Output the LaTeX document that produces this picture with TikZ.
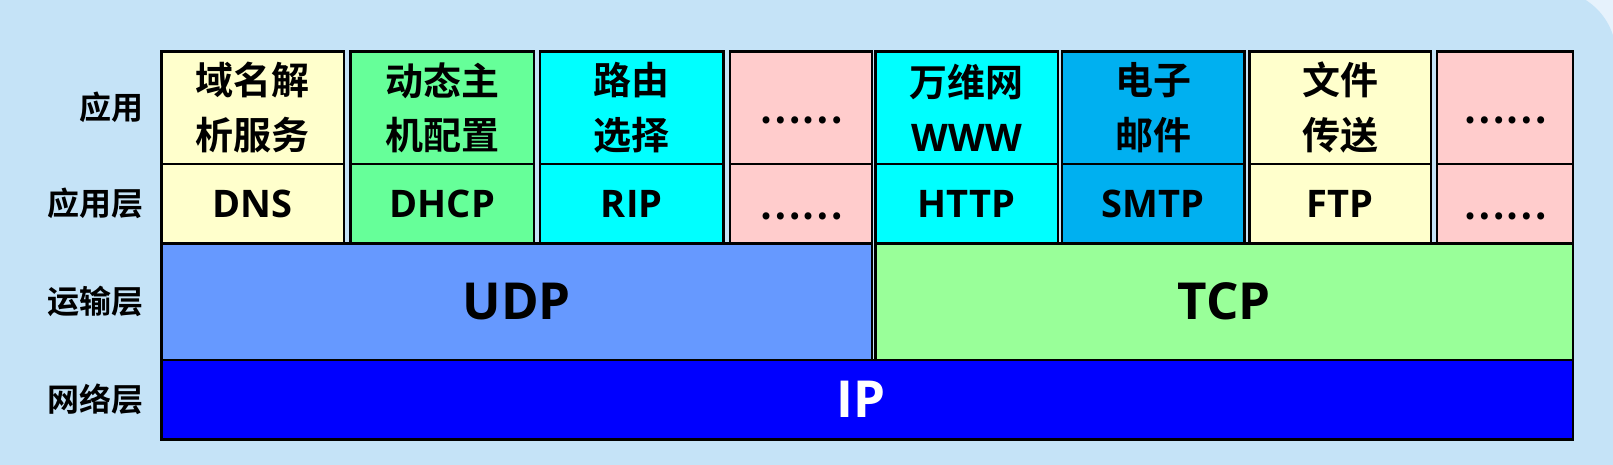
\documentclass[tikz,border=0pt]{standalone}
\usepackage{fontspec}
\setmainfont{Open Sans}
\newfontfamily\cjk{Noto Sans CJK SC}[BoldFont={Noto Sans CJK SC Bold}]
\usetikzlibrary{positioning}

\definecolor{panelblue}{HTML}{C5E3F7}
\definecolor{outerblue}{HTML}{E6F2FC}
\definecolor{dnsyellow}{HTML}{FFFFCC}
\definecolor{dhcpgreen}{HTML}{66FF99}
\definecolor{ripcyan}{HTML}{00FFFF}
\definecolor{dotpink}{HTML}{FFCCCC}
\definecolor{smtpblue}{HTML}{00B0F0}
\definecolor{udpblue}{HTML}{6699FF}
\definecolor{tcpgreen}{HTML}{99FF99}
\definecolor{ipblue}{HTML}{0000FF}

\newcommand{\lowdots}{\raisebox{-16pt}[0pt][0pt]{……}}

\begin{document}
\begin{tikzpicture}[x=1pt, y=1pt, node distance=0pt]
% Styles
\tikzstyle{cellbox} = [rectangle, draw=black, line width=2.7pt, inner sep=0pt, outer sep=0pt, align=center, font=\bfseries\fontsize{38}{54}\selectfont]
\tikzstyle{namebox} = [cellbox, minimum height=112.7pt, font=\cjk\bfseries\fontsize{38}{54.5}\selectfont]
\tikzstyle{protobox} = [cellbox, minimum height=79.3pt]
\tikzstyle{dotsbox} = [protobox, font=\cjk\bfseries\fontsize{38}{54}\selectfont]
\tikzstyle{layerbox} = [cellbox, font=\bfseries\fontsize{51}{60}\selectfont]
\tikzstyle{rowlabel} = [anchor=east, font=\cjk\bfseries\fontsize{32}{36}\selectfont]

% Background
\useasboundingbox (0,0) rectangle (1613,-465);
\fill[outerblue] (0,0) rectangle (1613,-465);
\fill[panelblue, rounded corners=65pt] (-100,10) rectangle (1616,-600);

% Application cells
\node (dns_name) [namebox, fill=dnsyellow, minimum width=182.5pt, anchor=north west] at (161.5,-51.3) {域名解\\析服务};
\node (dns) [protobox, fill=dnsyellow, minimum width=182.5pt, below=of dns_name] {DNS};
\node (dhcp_name) [namebox, fill=dhcpgreen, minimum width=183.5pt, right=6.5pt of dns_name] {动态主\\机配置};
\node (dhcp) [protobox, fill=dhcpgreen, minimum width=183.5pt, below=of dhcp_name] {DHCP};
\node (rip_name) [namebox, fill=ripcyan, minimum width=183.5pt, right=6pt of dhcp_name] {路由\\选择};
\node (rip) [protobox, fill=ripcyan, minimum width=183.5pt, below=of rip_name] {RIP};
\node (udp_more_name) [namebox, fill=dotpink, minimum width=142pt, right=6.5pt of rip_name] {\lowdots};
\node (udp_more) [dotsbox, fill=dotpink, minimum width=142pt, below=of udp_more_name] {\lowdots};
\node (http_name) [namebox, fill=ripcyan, minimum width=182.5pt, right=3.5pt of udp_more_name] {万维网\\{\rmfamily WWW}};
\node (http) [protobox, fill=ripcyan, minimum width=182.5pt, below=of http_name] {HTTP};
\node (smtp_name) [namebox, fill=smtpblue, minimum width=182.5pt, right=4pt of http_name] {电子\\邮件};
\node (smtp) [protobox, fill=smtpblue, minimum width=182.5pt, below=of smtp_name] {SMTP};
\node (ftp_name) [namebox, fill=dnsyellow, minimum width=181.5pt, right=5pt of smtp_name] {文件\\传送};
\node (ftp) [protobox, fill=dnsyellow, minimum width=181.5pt, below=of ftp_name] {FTP};
\node (tcp_more_name) [namebox, fill=dotpink, minimum width=136pt, right=6pt of ftp_name] {\lowdots};
\node (tcp_more) [dotsbox, fill=dotpink, minimum width=136pt, below=of tcp_more_name] {\lowdots};

% Transport and network layers
\node (udp) [layerbox, fill=udpblue, minimum width=710.5pt, minimum height=116.7pt, anchor=north west] at (dns.south west) {UDP};
\node (tcp) [layerbox, fill=tcpgreen, minimum width=697.5pt, minimum height=116.7pt, anchor=north west] at (http.south west) {TCP};
\node (ip) [layerbox, fill=ipblue, text=white, minimum width=1411.5pt, minimum height=79.3pt, anchor=north west] at (udp.south west) {IP\hspace{12pt}};

% Row labels
\node (app_label) [rowlabel, left=14pt of dns_name] {应用};
\node (app_layer_label) [rowlabel, left=14pt of dns] {应用层};
\node (transport_label) [rowlabel, left=14pt of udp] {运输层};
\node (network_label) [rowlabel, left=14pt of ip] {网络层};
\end{tikzpicture}
\end{document}
